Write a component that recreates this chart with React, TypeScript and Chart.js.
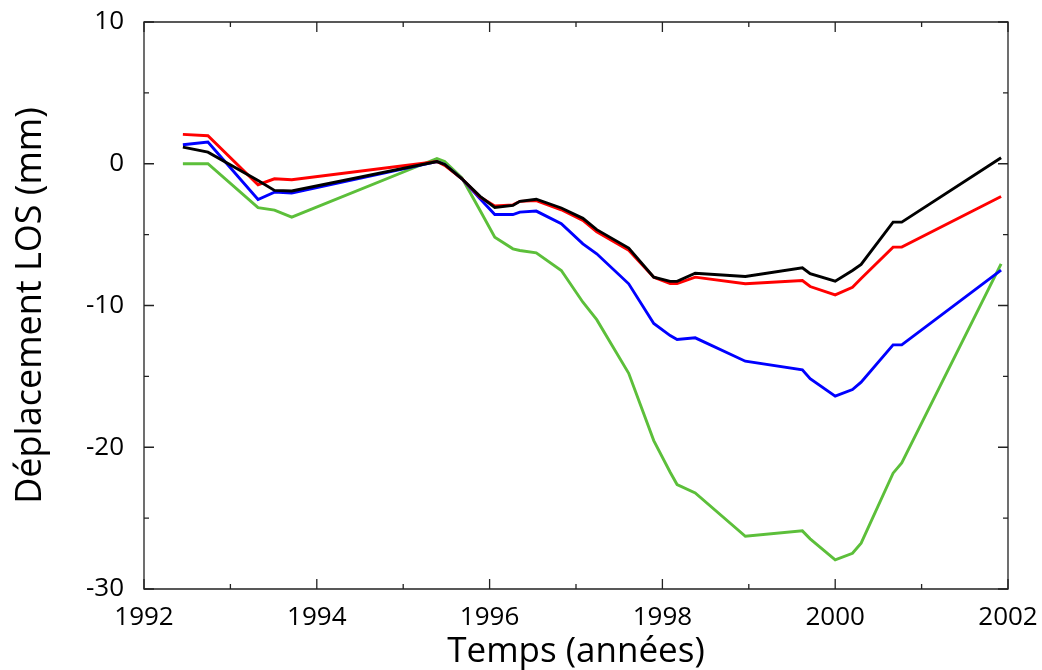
import React, { useEffect, useRef } from "react";
import { Chart, registerables } from "chart.js";

Chart.register(...registerables);

const dates = [
  1992.45, 1992.74, 1993.32, 1993.51, 1993.71, 1995.39, 1995.48, 1995.68, 1995.89, 1996.06,
  1996.27, 1996.35, 1996.54, 1996.83, 1997.08, 1997.24, 1997.61, 1997.9, 1998.09, 1998.17,
  1998.38, 1998.96, 1999.62, 1999.71, 2000.0, 2000.2, 2000.3, 2000.67, 2000.77, 2001.92,
];

const blackSeries = [
  1.17, 0.82, -1.18, -1.88, -1.92, 0.15, -0.05, -1.06, -2.3, -3.08,
  -2.94, -2.65, -2.5, -3.12, -3.85, -4.65, -5.95, -8.0, -8.3, -8.3,
  -7.72, -7.95, -7.34, -7.76, -8.28, -7.53, -7.1, -4.12, -4.12, 0.42,
];

const redSeries = [
  2.07, 1.98, -1.48, -1.06, -1.13, 0.16, -0.12, -1.06, -2.35, -2.98,
  -2.9, -2.65, -2.6, -3.25, -4.0, -4.8, -6.1, -8.0, -8.45, -8.45,
  -8.0, -8.47, -8.24, -8.66, -9.25, -8.71, -8.1, -5.88, -5.88, -2.31,
];

const blueSeries = [
  1.34, 1.53, -2.52, -2.0, -2.07, 0.16, -0.05, -1.06, -2.47, -3.58,
  -3.58, -3.41, -3.34, -4.23, -5.65, -6.35, -8.47, -11.27, -12.12, -12.4,
  -12.28, -13.93, -14.54, -15.17, -16.4, -15.93, -15.41, -12.78, -12.78, -7.5,
];

const greenSeries = [
  0, 0, -3.1, -3.27, -3.77, 0.37, 0.16, -1.0, -3.3, -5.18,
  -6.0, -6.12, -6.28, -7.53, -9.77, -11.0, -14.78, -19.53, -21.76, -22.63,
  -23.22, -26.28, -25.9, -26.46, -27.95, -27.48, -26.77, -21.83, -21.1, -7.06,
];

const xMajorLabels = [1992, 1994, 1996, 1998, 2000, 2002];
const yMajorLabels = [10, 0, -10, -20, -30];

const toPoints = (vals: number[]) => dates.map((d, i) => ({ x: d, y: vals[i] }));

const FONT = "'Open Sans', 'Noto Sans', sans-serif";

const framePlugin = {
  id: "frameTicks",
  afterDraw(chart: any) {
    const { ctx, chartArea } = chart;
    const { left, right, top, bottom } = chartArea;
    const xs = chart.scales.x;
    const ys = chart.scales.y;
    ctx.save();
    ctx.strokeStyle = "#222";
    ctx.lineWidth = 1.3;
    ctx.beginPath();
    ctx.rect(left, top, right - left, bottom - top);
    ctx.stroke();
    ctx.beginPath();
    xs.ticks.forEach((t: any) => {
      const px = xs.getPixelForValue(t.value);
      const len = xMajorLabels.includes(t.value) ? 10 : 5;
      ctx.moveTo(px, bottom);
      ctx.lineTo(px, bottom - len);
      ctx.moveTo(px, top);
      ctx.lineTo(px, top + len);
    });
    ys.ticks.forEach((t: any) => {
      const py = ys.getPixelForValue(t.value);
      const len = yMajorLabels.includes(t.value) ? 10 : 5;
      ctx.moveTo(left, py);
      ctx.lineTo(left + len, py);
      ctx.moveTo(right, py);
      ctx.lineTo(right - len, py);
    });
    ctx.stroke();
    ctx.restore();
  },
};

export default function App() {
  const ref = useRef<HTMLCanvasElement | null>(null);

  useEffect(() => {
    if (!ref.current) return;
    const chart = new Chart(ref.current, {
      type: "line",
      data: {
        datasets: [
          { label: "noir", data: toPoints(blackSeries), borderColor: "#000000", order: 1 },
          { label: "rouge", data: toPoints(redSeries), borderColor: "#ff0000", order: 2 },
          { label: "bleu", data: toPoints(blueSeries), borderColor: "#0000ff", order: 3 },
          { label: "vert", data: toPoints(greenSeries), borderColor: "#5cbf3a", order: 4 },
        ].map((d) => ({ ...d, borderWidth: 2.9, pointRadius: 0, tension: 0, fill: false })),
      },
      options: {
        animation: false,
        responsive: false,
        devicePixelRatio: 1,
        layout: { padding: { left: 0, top: 22, right: 34, bottom: 0 } },
        plugins: { legend: { display: false }, tooltip: { enabled: false } },
        scales: {
          x: {
            type: "linear",
            min: 1992,
            max: 2002,
            grid: { display: false, drawTicks: false },
            border: { display: false },
            ticks: {
              stepSize: 1,
              autoSkip: false,
              maxRotation: 0,
              padding: 13,
              color: "#000",
              font: { family: FONT, size: 26 },
              callback: (v: any) => (xMajorLabels.includes(v) ? String(v) : ""),
            },
            title: {
              display: true,
              text: "Temps (années)",
              color: "#000",
              font: { family: FONT, size: 35, lineHeight: 1 },
              padding: { top: 0, bottom: 0 },
            },
            afterFit: (s: any) => {
              s.height = 81;
              s.paddingLeft = 0;
              s.paddingRight = 0;
            },
          },
          y: {
            min: -30,
            max: 10,
            grid: { display: false, drawTicks: false },
            border: { display: false },
            ticks: {
              stepSize: 5,
              autoSkip: false,
              padding: 20,
              color: "#000",
              font: { family: FONT, size: 26 },
              callback: (v: any) => (yMajorLabels.includes(v) ? String(v) : ""),
            },
            title: {
              display: true,
              text: "Déplacement LOS (mm)",
              color: "#000",
              font: { family: FONT, size: 36, lineHeight: 1 },
              padding: { top: 13, bottom: 0 },
            },
            afterFit: (s: any) => {
              s.width = 144;
              s.paddingTop = 0;
              s.paddingBottom = 0;
            },
          },
        },
      },
      plugins: [framePlugin],
    });
    return () => chart.destroy();
  }, []);

  return (
    <div style={{ position: "absolute", left: 0, top: 0, width: 1042, height: 670, background: "#fff" }}>
      <canvas ref={ref} width={1042} height={670} style={{ width: 1042, height: 670 }} />
    </div>
  );
}
